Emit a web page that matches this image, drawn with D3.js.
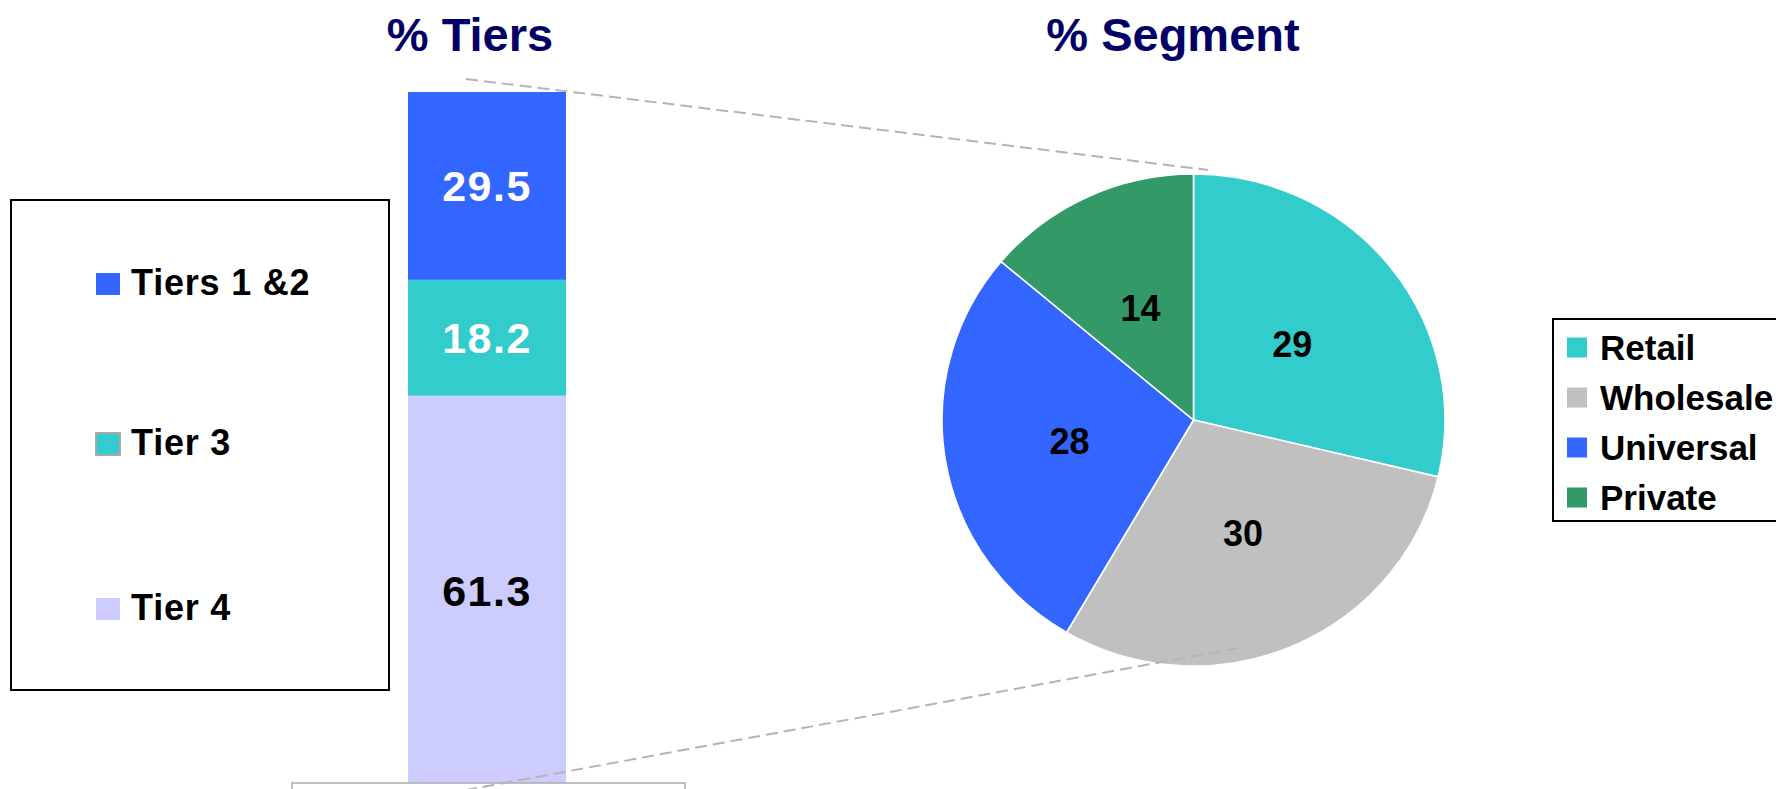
<!DOCTYPE html>
<html>
<head>
<meta charset="utf-8">
<script src="https://cdn.jsdelivr.net/npm/d3@7"></script>
<style>
  body { margin: 0; background: #fff; }
  svg { display: block; }
  text { font-family: "Liberation Sans", Arial, sans-serif; font-weight: bold; }
</style>
</head>
<body>
<div id="chart"></div>
<script>
// bar: tiers, bottom to top
var tierNames = ["Tier 4", "Tier 3", "Tiers 1 &2"];
var tierValues = [61.3, 18.2, 29.5];
var tierColors = ["#CCCCFF", "#33CCCC", "#3366FF"];
var tierLabelColors = ["#000", "#fff", "#fff"];

// pie: segments, clockwise from 12 o'clock
var segNames = ["Retail", "Wholesale", "Universal", "Private"];
var segValues = [29, 30, 28, 14];
var segColors = ["#33CCCC", "#C0C0C0", "#3366FF", "#339966"];

var W = 1776, H = 789;

var svg = d3.select("#chart")
	.append("svg")
	.attr("width", W)
	.attr("height", H);

// titles
svg.append("text")
	.text("% Tiers")
	.attr("x", 470)
	.attr("y", 51)
	.attr("text-anchor", "middle")
	.style("font-size", "47px")
	.style("fill", "#000066");

svg.append("text")
	.text("% Segment")
	.attr("x", 1173)
	.attr("y", 51)
	.attr("text-anchor", "middle")
	.style("font-size", "47px")
	.style("fill", "#000066");

// stacked bar
var total = d3.sum(tierValues);
var y = d3.scaleLinear().domain([0, total]).range([786, 92]);
var x = d3.scaleBand().domain(["Tiers"]).range([408, 566]).padding(0);

var stack = [];
var run = 0;
tierValues.forEach(function(v, i) {
	stack.push({ name: tierNames[i], value: v, y0: run, y1: run + v, color: tierColors[i], label: tierLabelColors[i] });
	run += v;
});

svg.selectAll(".seg")
	.data(stack)
	.enter().append("rect")
	.attr("class", "seg")
	.attr("x", x("Tiers"))
	.attr("width", x.bandwidth())
	.attr("y", function(d) { return y(d.y1); })
	.attr("height", function(d) { return y(d.y0) - y(d.y1); })
	.style("fill", function(d) { return d.color; });

svg.selectAll(".seglabel")
	.data(stack)
	.enter().append("text")
	.attr("class", "seglabel")
	.text(function(d) { return d.value.toFixed(1); })
	.attr("x", x("Tiers") + x.bandwidth() / 2)
	.attr("y", function(d) { return (y(d.y0) + y(d.y1)) / 2; })
	.attr("dy", "0.36em")
	.attr("text-anchor", "middle")
	.style("font-size", "43px")
	.style("letter-spacing", "1.5px")
	.style("fill", function(d) { return d.label; });

// box at the bottom, partly cut off
svg.append("rect")
	.attr("x", 292)
	.attr("y", 783)
	.attr("width", 393)
	.attr("height", 30)
	.style("fill", "#fff")
	.style("stroke", "#b0b0b0")
	.style("stroke-width", 1.6);

// left legend
svg.append("rect")
	.attr("x", 11)
	.attr("y", 200)
	.attr("width", 378)
	.attr("height", 490)
	.style("fill", "none")
	.style("stroke", "#000")
	.style("stroke-width", 2);

var legTop = [tierNames[2], tierNames[1], tierNames[0]];
var legRowY = { "Tiers 1 &2": 284, "Tier 3": 444, "Tier 4": 609 };
var leg1 = svg.selectAll(".leg1")
	.data(legTop)
	.enter().append("g")
	.attr("class", "leg1")
	.attr("transform", function(d) { return "translate(96," + legRowY[d] + ")"; });

leg1.append("rect")
	.attr("x", 0)
	.attr("y", -11)
	.attr("width", 24)
	.attr("height", 22)
	.style("fill", function(d) { return tierColors[tierNames.indexOf(d)]; })
	.style("stroke", function(d) { return d == "Tier 3" ? "#a8a8a8" : "none"; })
	.style("stroke-width", 2);

leg1.append("text")
	.text(function(d) { return d; })
	.attr("x", 35)
	.attr("y", 11)
	.style("font-size", "36px")
	.style("letter-spacing", "0.8px")
	.style("fill", "#000");

// pie
var cx = 1193.5, cy = 420, r = 250, sx = 1.006, sy = 0.984;
var pie = d3.pie().sort(null).value(function(d) { return d; });
var arc = d3.arc().innerRadius(0).outerRadius(r);
var arcs = pie(segValues);

var pg = svg.append("g")
	.attr("transform", "translate(" + cx + "," + cy + ") scale(" + sx + "," + sy + ")");

pg.selectAll(".slice")
	.data(arcs)
	.enter().append("path")
	.attr("class", "slice")
	.attr("d", arc)
	.style("fill", function(d, i) { return segColors[i]; })
	.style("stroke", "#fff")
	.style("stroke-width", 1.6);

svg.selectAll(".pielabel")
	.data(arcs)
	.enter().append("text")
	.attr("class", "pielabel")
	.text(function(d) { return d.value; })
	.attr("x", function(d) { return cx + arc.centroid(d)[0] * sx; })
	.attr("y", function(d) { return cy + arc.centroid(d)[1] * sy; })
	.attr("dy", "0.36em")
	.attr("text-anchor", "middle")
	.style("font-size", "36px")
	.style("fill", "#000");

// dashed connectors
var connectors = [
	[[466, 79], [1208, 170]],
	[[1238, 648], [455, 792]]
];
svg.selectAll(".conn")
	.data(connectors)
	.enter().append("line")
	.attr("class", "conn")
	.attr("x1", function(d) { return d[0][0]; })
	.attr("y1", function(d) { return d[0][1]; })
	.attr("x2", function(d) { return d[1][0]; })
	.attr("y2", function(d) { return d[1][1]; })
	.style("stroke", "#b4b4b4")
	.style("stroke-width", 2)
	.style("stroke-dasharray", "12,6");

// right legend
svg.append("rect")
	.attr("x", 1553)
	.attr("y", 319)
	.attr("width", 260)
	.attr("height", 202)
	.style("fill", "none")
	.style("stroke", "#000")
	.style("stroke-width", 2);

var leg2 = svg.selectAll(".leg2")
	.data(segNames)
	.enter().append("g")
	.attr("class", "leg2")
	.attr("transform", function(d, i) { return "translate(1567," + (347.5 + i * 50) + ")"; });

leg2.append("rect")
	.attr("x", 0)
	.attr("y", -10)
	.attr("width", 20)
	.attr("height", 20)
	.style("fill", function(d, i) { return segColors[i]; });

leg2.append("text")
	.text(function(d) { return d; })
	.attr("x", 33)
	.attr("y", 12.5)
	.style("font-size", "35px")
	.style("fill", "#000");
</script>
</body>
</html>
